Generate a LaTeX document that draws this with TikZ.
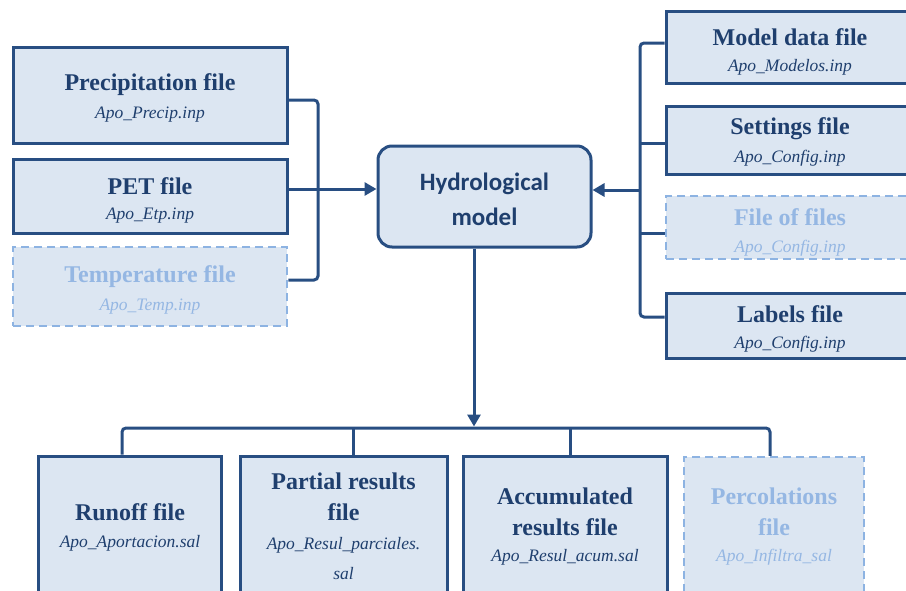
\documentclass[tikz,border=0pt]{standalone}
\usepackage{fontspec}
\setmainfont{Liberation Serif}
\newfontfamily\hfont{Carlito}
\usetikzlibrary{arrows.meta}
\definecolor{bd}{RGB}{40,78,130}
\definecolor{fillc}{RGB}{220,230,242}
\definecolor{txt}{RGB}{31,63,110}
\definecolor{lt}{RGB}{141,179,226}
\definecolor{lttxt}{RGB}{149,183,227}
\begin{document}
\begin{tikzpicture}[x=1pt,y=-1pt,
  box/.style={draw=bd, fill=fillc, line width=3pt, inner sep=0pt, minimum width=#1},
  dbox/.style={draw=lt, fill=fillc, line width=2.5pt, dash pattern=on 8pt off 5pt, inner sep=0pt, minimum width=#1},
  ttl/.style={text=txt, font=\fontsize{24}{31}\selectfont\bfseries, align=center, inner sep=0pt},
  sub/.style={text=txt, font=\fontsize{17.5}{30}\selectfont\itshape, align=center, inner sep=0pt},
  lttl/.style={ttl, text=lttxt},
  lsub/.style={sub, text=lttxt},
  conn/.style={draw=bd, line width=3pt, rounded corners=4pt},
  arr/.style={draw=bd, line width=3pt, -{Triangle[length=12pt,width=13pt]}}
]
\useasboundingbox (0,0) rectangle (906,590);

% left inputs
\node[box=274pt, minimum height=96pt] (prec) at (150,95) {};
\node[box=274pt, minimum height=74pt] (pet) at (150,196) {};
\node[dbox=274pt, minimum height=79pt] (temp) at (150,286.5) {};
\node[ttl] (precT) at (150,85) {Precipitation file};
\node[sub] (precS) at (150,115) {Apo\_Precip.inp};
\node[ttl] (petT) at (150,186) {PET file};
\node[sub] (petS) at (150,216) {Apo\_Etp.inp};
\node[lttl] (tempT) at (150,277) {Temperature file};
\node[lsub] (tempS) at (150,307) {Apo\_Temp.inp};

% model
\node[draw=bd, fill=fillc, line width=3pt, rounded corners=14pt, minimum width=213pt, minimum height=101pt, inner sep=0pt] (hydro) at (484.5,196.5) {};
\node[text=txt, font=\hfont\fontsize{25}{35}\selectfont\bfseries, align=center, inner sep=0pt] (hydroT) at (484.5,199) {Hydrological\\model};

% right inputs
\node[box=264pt, minimum height=72pt] (mod) at (798,47) {};
\node[box=264pt, minimum height=68pt] (set) at (798,140) {};
\node[dbox=264pt, minimum height=63pt] (fof) at (798,227.5) {};
\node[box=264pt, minimum height=65pt] (lab) at (798,325.5) {};
\node[ttl] (modT) at (790,37) {Model data file};
\node[sub] (modS) at (790,67) {Apo\_Modelos.inp};
\node[ttl] (setT) at (790,129) {Settings file};
\node[sub] (setS) at (790,158) {Apo\_Config.inp};
\node[lttl] (fofT) at (790,217) {File of files};
\node[lsub] (fofS) at (790,248) {Apo\_Config.inp};
\node[ttl] (labT) at (790,314) {Labels file};
\node[sub] (labS) at (790,344) {Apo\_Config.inp};

% outputs
\node[box=183pt, minimum height=164pt] (run) at (129.5,538) {};
\node[box=207pt, minimum height=164pt] (par) at (343.5,538) {};
\node[box=204pt, minimum height=164pt] (acc) at (565,538) {};
\node[dbox=180pt, minimum height=163pt] (per) at (774,538.5) {};
\node[ttl] (runT) at (130,512) {Runoff file};
\node[sub] (runS) at (130,543) {Apo\_Aportacion.sal};
\node[ttl, text depth=0pt] (parT) at (343.5,497) {Partial results\\file};
\node[sub] (parS) at (343.5,559) {Apo\_Resul\_parciales.\\sal};
\node[ttl] (accT) at (565,512) {Accumulated\\results file};
\node[sub] (accS) at (565,557) {Apo\_Resul\_acum.sal};
\node[lttl] (perT) at (774,512) {Percolations\\file};
\node[lsub] (perS) at (774,557) {Apo\_Infiltra\_sal};

% left bracket
\coordinate (lb) at (318,189);
\draw[conn] (prec.east |- 0,100) -- (lb |- 0,100) -- (lb |- 0,280) -- (temp.east |- 0,280);
\draw[arr] (pet.east |- lb) -- (hydro.west |- lb);

% right bracket
\coordinate (rb) at (640,190);
\draw[conn] (mod.west |- 0,43) -- (rb |- 0,43) -- (rb |- 0,317) -- (lab.west |- 0,317);
\draw[conn] (rb |- 0,143) -- (set.west |- 0,143);
\draw[conn] (rb |- 0,233) -- (fof.west |- 0,233);
\draw[arr] (rb) -- (hydro.east |- rb);

% bottom bus
\coordinate (bus) at (474,428);
\draw[conn] (run.north -| 122,0) -- (122,428) -- (770,428) -- (per.north -| 770,0);
\draw[conn] (par.north -| 353,0) -- (353,428);
\draw[conn] (acc.north -| 570,0) -- (570,428);
\draw[arr] (hydro.south -| bus) -- ([yshift=1.5pt]bus);
\end{tikzpicture}
\end{document}
